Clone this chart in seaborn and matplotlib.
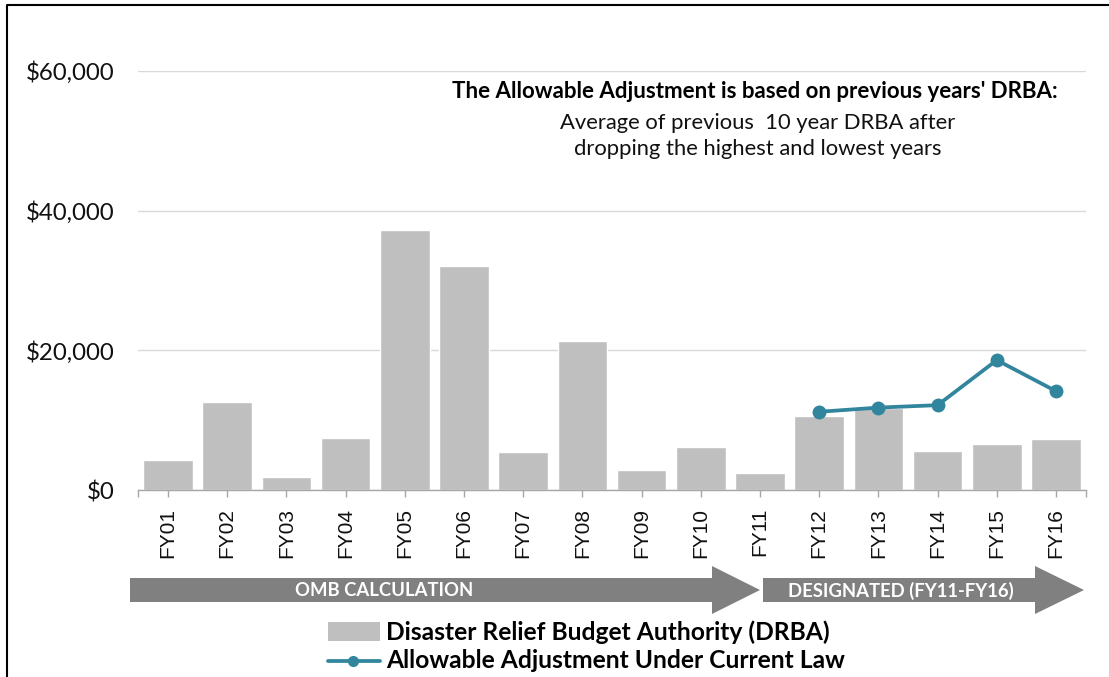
import matplotlib
matplotlib.use("Agg")
import matplotlib.pyplot as plt
import seaborn as sns
import numpy as np
from matplotlib.patches import Polygon, Rectangle
from matplotlib.lines import Line2D
from matplotlib.ticker import FuncFormatter

# ---- data ----
categories = ["FY01", "FY02", "FY03", "FY04", "FY05", "FY06", "FY07", "FY08",
              "FY09", "FY10", "FY11", "FY12", "FY13", "FY14", "FY15", "FY16"]
drba = [4300, 12600, 1900, 7450, 37200, 32050, 5450, 21350,
        2850, 6150, 2450, 10600, 11750, 5600, 6600, 7300]
adj_categories = ["FY12", "FY13", "FY14", "FY15", "FY16"]
adj_values = [11200, 11800, 12150, 18600, 14150]
y_ticks = [0, 20000, 40000, 60000]

bar_label = "Disaster Relief Budget Authority (DRBA)"
line_label = "Allowable Adjustment Under Current Law"
note_title = "The Allowable Adjustment is based on previous years' DRBA:"
note_body = "Average of previous  10 year DRBA after\ndropping the highest and lowest years"
arrow1_text = "OMB CALCULATION"
arrow2_text = "DESIGNATED (FY11-FY16)"

BAR = "#bfbfbf"
LINE = "#31859c"
ARROW = "#808080"

sns.set_theme(style="white")
plt.rcParams["font.family"] = ["Lato", "DejaVu Sans"]

W, H = 1109, 677
fig = plt.figure(figsize=(W / 100, H / 100), dpi=100)

def fx(x):
    return x / W

def fy(y):
    return 1 - y / H

ax = fig.add_axes([fx(138.4), fy(490), (1085.6 - 138.4) / W, (490 - 71) / H])

sns.barplot(x=categories, y=drba, order=categories, color=BAR, width=0.84,
            saturation=1, ax=ax, zorder=2)
adj_x = [categories.index(c) for c in adj_categories]
sns.lineplot(x=adj_x, y=adj_values, color=LINE, lw=2.7, marker="o",
             markersize=10, markeredgewidth=0, ax=ax, zorder=3)

ax.set_xlim(-0.5, len(categories) - 0.5)
ax.set_ylim(0, 60000)
ax.set_yticks(y_ticks)
ax.yaxis.set_major_formatter(FuncFormatter(lambda v, p: f"${v:,.0f}"))
ax.grid(axis="y", color="#d9d9d9", lw=1, zorder=0)
ax.set_axisbelow(True)
for s in ["top", "right", "left"]:
    ax.spines[s].set_visible(False)
ax.spines["bottom"].set_color("#a6a6a6")
ax.spines["bottom"].set_linewidth(1)
ax.tick_params(axis="y", length=0, pad=17, labelsize=17.3, labelcolor="#111111")
ax.tick_params(axis="x", length=5, width=1, color="#a6a6a6", direction="out",
               pad=8, labelsize=15, labelrotation=90, bottom=True, labelcolor="#111111")
for lab in ax.get_xticklabels():
    lab.set_fontfamily(["Liberation Sans", "DejaVu Sans"])
ax.set_xticks([-0.5, len(categories) - 0.5], minor=True)
ax.tick_params(axis="x", which="minor", length=5, width=1, color="#a6a6a6", bottom=True)
ax.set_xlabel("")
ax.set_ylabel("")
if ax.get_legend():
    ax.get_legend().remove()

# annotation text
fig.text(fx(755), fy(91), note_title, ha="center", va="center",
         fontsize=16, fontweight="bold", color="#000000")
fig.text(fx(758), fy(136), note_body, ha="center", va="center",
         fontsize=15.8, color="#111111", linespacing=1.42)

# arrows
def arrow(x0, x1, xh, ytop, ybot, htop, hbot):
    ymid = (ytop + ybot) / 2
    pts = [(x0, ytop), (xh, ytop), (xh, htop), (x1, ymid), (xh, hbot),
           (xh, ybot), (x0, ybot)]
    fig.add_artist(Polygon([(fx(a), fy(b)) for a, b in pts], closed=True,
                           transform=fig.transFigure, facecolor=ARROW,
                           edgecolor="none"))

arrow(130, 760, 712, 578, 602, 566, 614)
arrow(763, 1084, 1035, 578, 602, 566, 614)
fig.text(fx(384), fy(591), arrow1_text, ha="center", va="center",
         fontsize=13.3, fontweight="bold", color="white")
fig.text(fx(901), fy(591), arrow2_text, ha="center", va="center",
         fontsize=13.3, fontweight="bold", color="white")

# legend
fig.add_artist(Rectangle((fx(328), fy(641)), (380 - 328) / W, 19 / H,
                         transform=fig.transFigure, facecolor=BAR, edgecolor="none"))
fig.text(fx(386), fy(632), bar_label, ha="left", va="center",
         fontsize=17.7, fontweight="bold", color="#000000")
fig.add_artist(Line2D([fx(328), fx(380)], [fy(661), fy(661)], color=LINE, lw=2.7,
                      transform=fig.transFigure))
fig.add_artist(Line2D([fx(353)], [fy(661)], color=LINE, marker="o", markersize=8,
                      markeredgewidth=0, transform=fig.transFigure))
fig.text(fx(386), fy(661), line_label, ha="left", va="center",
         fontsize=17.7, fontweight="bold", color="#000000")

# border (top & left)
fig.add_artist(Line2D([fx(7), fx(7), fx(1109)], [fy(677), fy(4.5), fy(4.5)],
                      color="black", lw=1.5, transform=fig.transFigure))

fig.savefig("out.png", dpi=100, facecolor="white")
